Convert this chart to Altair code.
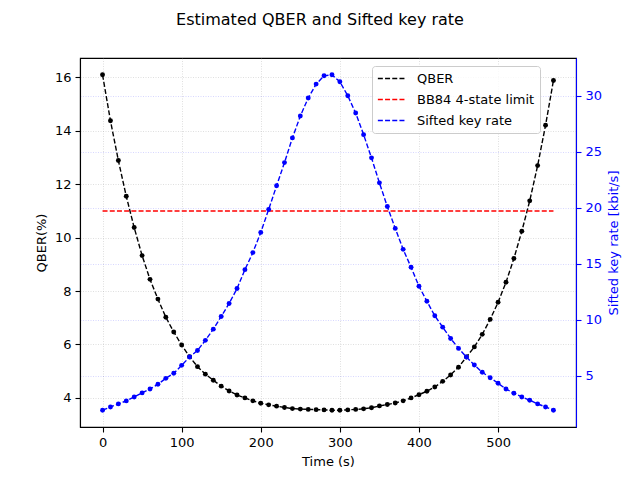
import altair as alt
import pandas as pd

time_s = list(range(0, 580, 10))
qber = [16.10, 14.38, 12.89, 11.55, 10.38, 9.33, 8.44, 7.70, 7.02, 6.47,
        5.98, 5.54, 5.17, 4.89, 4.66, 4.44, 4.26, 4.11, 4.00, 3.89,
        3.80, 3.74, 3.69, 3.64, 3.60, 3.58, 3.57, 3.56, 3.55, 3.54,
        3.54, 3.55, 3.57, 3.59, 3.63, 3.70, 3.75, 3.81, 3.89, 4.00,
        4.12, 4.25, 4.41, 4.62, 4.86, 5.15, 5.53, 5.91, 6.38, 6.94,
        7.58, 8.33, 9.22, 10.24, 11.38, 12.70, 14.21, 15.89]
rate = [1.95, 2.24, 2.51, 2.78, 3.13, 3.49, 3.84, 4.26, 4.79, 5.24,
        5.95, 6.69, 7.28, 8.18, 9.18, 10.31, 11.47, 12.80, 14.49, 16.01,
        17.81, 19.86, 21.97, 24.04, 26.24, 28.19, 29.80, 31.04, 31.78, 31.87,
        31.25, 30.00, 28.46, 26.53, 24.46, 22.23, 20.12, 18.17, 16.30, 14.70,
        13.01, 11.67, 10.37, 9.36, 8.35, 7.46, 6.69, 5.98, 5.33, 4.85,
        4.35, 3.84, 3.46, 3.13, 2.84, 2.51, 2.24, 1.95]
limit_value = 11.0
limit_span = [0, 570]

series_names = ["QBER", "BB84 4-state limit", "Sifted key rate"]
series_colors = ["#000000", "#ff0000", "#0000ff"]

df = pd.DataFrame({"time": time_s, "qber": qber, "rate": rate})
limit_df = pd.DataFrame({"time": [limit_span[0]], "time_end": [limit_span[1]],
                         "qber": [limit_value], "series": ["BB84 4-state limit"]})

FONT = "DejaVu Sans"
DASH = [5, 2.2]

color_scale = alt.Scale(domain=series_names, range=series_colors)
legend = alt.Legend(
    title=None, orient="none", legendX=292, legendY=8,
    symbolType="stroke", symbolSize=800, symbolStrokeWidth=1.4, symbolDash=DASH,
    labelFont=FONT, labelFontSize=13, labelColor="black",
    strokeColor="#cccccc", fillColor="rgba(255,255,255,0.8)", cornerRadius=3,
    padding=5, rowPadding=6, labelOffset=10, clipHeight=15,
)

x_enc = alt.X("time:Q", title="Time (s)",
              scale=alt.Scale(domain=[-28.5, 598.5], nice=False, zero=False),
              axis=alt.Axis(values=[0, 100, 200, 300, 400, 500], grid=True,
                            gridColor="#b0b0b0", gridOpacity=0.5, gridDash=[1, 1.5],
                            gridWidth=0.8))

left_scale = alt.Scale(domain=[2.91, 16.73], nice=False, zero=False)
left_axis = alt.Axis(values=[4, 6, 8, 10, 12, 14, 16], title="QBER(%)", grid=True,
                     gridColor="#b0b0b0", gridOpacity=0.5, gridDash=[1, 1.5],
                     gridWidth=0.8, orient="left")

qber_line = alt.Chart(df).transform_calculate(series="'QBER'").mark_line(
    strokeDash=DASH, strokeWidth=1.4,
    point=alt.OverlayMarkDef(filled=True, size=24, opacity=1),
).encode(
    x=x_enc,
    y=alt.Y("qber:Q", scale=left_scale, axis=left_axis),
    color=alt.Color("series:N", scale=color_scale, legend=legend),
)

limit_rule = alt.Chart(limit_df).mark_rule(strokeDash=DASH, strokeWidth=1.4).encode(
    x=alt.X("time:Q"),
    x2="time_end:Q",
    y=alt.Y("qber:Q", scale=left_scale, axis=left_axis),
    color=alt.Color("series:N", scale=color_scale, legend=legend),
)

rate_line = alt.Chart(df).transform_calculate(series="'Sifted key rate'").mark_line(
    strokeDash=DASH, strokeWidth=1.4,
    point=alt.OverlayMarkDef(filled=True, size=24, opacity=1),
).encode(
    x=x_enc,
    y=alt.Y("rate:Q", title="Sifted key rate [kbit/s]",
            scale=alt.Scale(domain=[0.45, 33.37], nice=False, zero=False),
            axis=alt.Axis(values=[5, 10, 15, 20, 25, 30], orient="right", grid=True,
                          gridColor="#0000ff", gridOpacity=0.2, gridDash=[1, 1.5],
                          gridWidth=0.8, labelColor="#0000ff", titleColor="#0000ff",
                          tickColor="#0000ff", domainColor="#0000ff", titleAngle=270,
                          titleBaseline="top")),
    color=alt.Color("series:N", scale=color_scale, legend=legend),
)

chart = alt.layer(alt.layer(qber_line, limit_rule), rate_line).resolve_scale(
    y="independent"
).properties(
    width=496, height=369,
    title=alt.TitleParams("Estimated QBER and Sifted key rate", font=FONT, fontSize=16,
                          fontWeight="normal", anchor="middle", dx=-8, offset=30,
                          color="black"),
    autosize=alt.AutoSizeParams(type="none"),
    padding={"left": 72, "top": 50, "right": 56, "bottom": 40},
).configure_view(
    stroke="black", strokeWidth=1.1
).configure_axis(
    labelFont=FONT, labelFontSize=13, titleFont=FONT, titleFontSize=13,
    titleFontWeight="normal", labelColor="black", titleColor="black",
    tickSize=5, tickWidth=1.1, tickColor="black", domainColor="black",
    domainWidth=1.1, labelPadding=4, titlePadding=6,
)

chart.save("out.html", embed_options={"renderer": "svg", "actions": False})
